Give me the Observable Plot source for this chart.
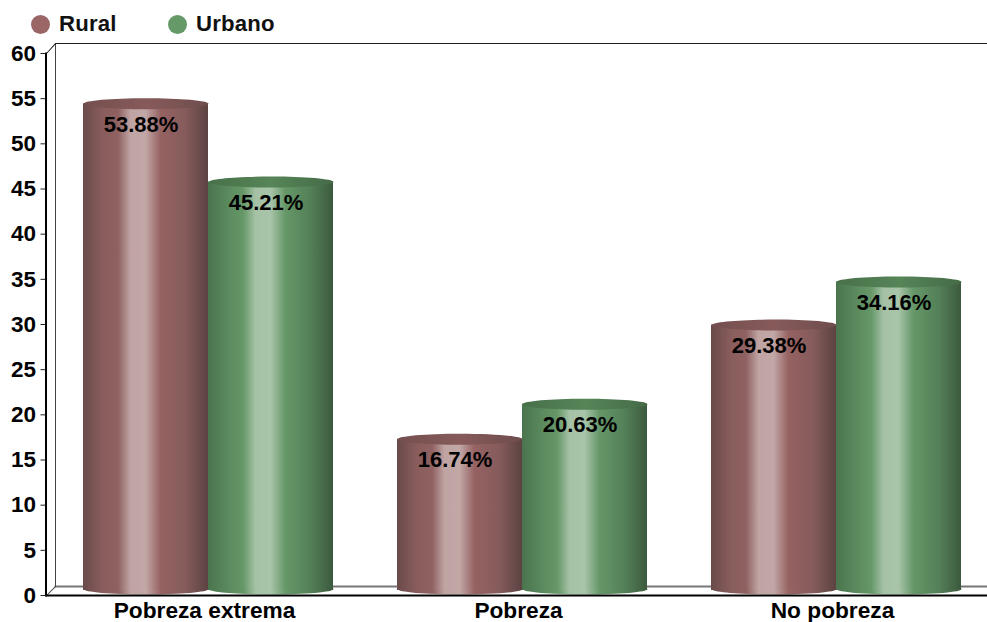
<!DOCTYPE html>
<html>
<head>
<meta charset="utf-8">
<script src="https://cdn.jsdelivr.net/npm/d3@7"></script>
<script src="https://cdn.jsdelivr.net/npm/@observablehq/plot@0.6"></script>
<style>
  html, body { margin: 0; padding: 0; background: #fff; }
  body { width: 987px; height: 622px; overflow: hidden; font-family: "Liberation Sans", Arial, sans-serif; }
  #legend { height: 36px; position: relative; font-weight: bold; font-size: 22.2px; letter-spacing: 0.2px; color: #111; }
  #legend .item { position: absolute; top: 0; height: 48px; display: flex; align-items: center; }
  #legend .swatch { width: 19px; height: 19px; border-radius: 50%; margin-right: 9px; }
  #chart svg { display: block; }
</style>
</head>
<body>
<div id="legend"></div>
<div id="chart"></div>
<script>
// Poverty level by area of residence, in percent
const categories = ["Pobreza extrema", "Pobreza", "No pobreza"];
const series = ["Rural", "Urbano"];
const ruralValues = [53.88, 16.74, 29.38];
const urbanoValues = [45.21, 20.63, 34.16];
const yTicks = [0, 5, 10, 15, 20, 25, 30, 35, 40, 45, 50, 55, 60];

const swatchColors = {Rural: "#9a6666", Urbano: "#659a68"};
const bodyStops = {
  Rural: [[0, "#6a4a4a"], [0.17, "#8b5e5e"], [0.28, "#8f6161"], [0.38, "#c0a4a4"], [0.5, "#c2a7a7"], [0.62, "#966262"], [0.82, "#855b5b"], [1, "#5c4242"]],
  Urbano: [[0, "#4a744d"], [0.17, "#5c8b5f"], [0.28, "#659768"], [0.38, "#a5c2a6"], [0.5, "#a8c4a9"], [0.62, "#659768"], [0.82, "#548057"], [1, "#3c5a3e"]]
};
const capStops = {
  Rural: [[0, "#744f4f"], [0.5, "#875a5a"], [1, "#6f4d4d"]],
  Urbano: [[0, "#487049"], [0.5, "#568558"], [1, "#456b47"]]
};

const rows = series.flatMap((s, k) => {
  const values = k === 0 ? ruralValues : urbanoValues;
  return categories.map((c, i) => ({category: c, series: s, value: values[i]}));
});

// Horizontal gradients that give each cylinder its rounded shading
function gradients() {
  const defs = d3.create("svg:defs");
  const add = (id, stops) => {
    const g = defs.append("linearGradient").attr("id", id);
    for (const [offset, color] of stops) {
      g.append("stop").attr("offset", offset).attr("stop-color", color);
    }
  };
  for (const s of series) {
    add("body" + s, bodyStops[s]);
    add("cap" + s, capStops[s]);
  }
  return defs.node();
}

// Flat ellipse closing a cylinder at its top and bottom
const capSymbol = {
  draw(ctx) {
    const rx = 62.5, ry = 5.5, kx = rx * 0.5523, ky = ry * 0.5523;
    ctx.moveTo(-rx, 0);
    ctx.bezierCurveTo(-rx, -ky, -kx, -ry, 0, -ry);
    ctx.bezierCurveTo(kx, -ry, rx, -ky, rx, 0);
    ctx.bezierCurveTo(rx, ky, kx, ry, 0, ry);
    ctx.bezierCurveTo(-kx, ry, -rx, ky, -rx, 0);
    ctx.closePath();
  }
};

// Short segment joining the front axes to the back wall
const joint = {
  draw(ctx, length) {
    ctx.moveTo(0, 0);
    ctx.lineTo(0, -length);
  }
};

const depth = 9;
const wall = {facet: "super", dx: depth, dy: -depth};
const labelFont = {fontSize: 22, fontWeight: "bold", fill: "#000"};

const chart = Plot.plot({
  width: 987,
  height: 586,
  marginTop: 17,
  marginBottom: 27,
  marginLeft: 46,
  marginRight: 0,
  style: {fontFamily: "'Liberation Sans', Arial, sans-serif", background: "#fff", overflow: "hidden"},
  fx: {domain: categories, range: [46, 988], padding: 0, round: false, label: null},
  x: {domain: series, paddingInner: 0, paddingOuter: 0.256, round: false, axis: null},
  y: {domain: [0, 60], label: null},
  marks: [
    gradients,
    // back wall
    Plot.frame({anchor: "top", stroke: "#222", strokeWidth: 1, ...wall, dy: -10}),
    Plot.frame({anchor: "left", stroke: "#444", strokeWidth: 1, ...wall}),
    Plot.frame({anchor: "bottom", stroke: "#777", strokeWidth: 2, ...wall}),
    Plot.vector([0], {frameAnchor: "top-left", anchor: "start", length: 13, rotate: 42, shape: joint, stroke: "#222", strokeWidth: 1, facet: "super"}),
    Plot.vector([0], {frameAnchor: "bottom-left", anchor: "start", length: 13, rotate: 45, shape: joint, stroke: "#444", strokeWidth: 1, facet: "super"}),
    // cylinders
    Plot.dot(rows, {
      fx: "category", x: "series", y: () => 0,
      symbol: capSymbol,
      fill: {value: (d) => `url(#body${d.series})`, scale: null},
      dx: 5, dy: -6.5
    }),
    Plot.barY(rows, {
      fx: "category", x: "series", y1: () => 0, y2: "value",
      fill: {value: (d) => `url(#body${d.series})`, scale: null},
      dx: 5, dy: -5, insetLeft: 0, insetRight: 0
    }),
    Plot.dot(rows, {
      fx: "category", x: "series", y: "value",
      symbol: capSymbol,
      fill: {value: (d) => `url(#cap${d.series})`, scale: null},
      dx: 5, dy: -5
    }),
    Plot.text(rows, {
      fx: "category", x: "series", y: "value",
      text: (d) => d.value.toFixed(2) + "%",
      dy: 16, ...labelFont
    }),
    // front axes
    Plot.frame({anchor: "left", stroke: "#000", strokeWidth: 2, facet: "super", dx: -0.5}),
    Plot.frame({anchor: "bottom", stroke: "#000", strokeWidth: 2, facet: "super"}),
    Plot.axisY({ticks: yTicks, tickSize: 5, tickPadding: 5, tickFormat: (d) => String(d), stroke: "#222", ...labelFont, fontSize: 22.5, marginLeft: 46, dx: -0.5}),
    Plot.axisFx({tickSize: 0, tickPadding: 6.5, anchor: "bottom", label: null, ...labelFont, fontSize: 22.7, dx: 1}),
    Plot.ruleX(categories, {fx: (d) => d, y1: 0, y2: -0.55, dx: -157, stroke: "#555", strokeWidth: 1})
  ]
});
document.getElementById("chart").append(chart);

// Legend above the chart
const legend = d3.select("#legend");
const legendLeft = {Rural: 31, Urbano: 168};
for (const s of series) {
  const item = legend.append("div").attr("class", "item").style("left", legendLeft[s] + "px");
  item.append("span").attr("class", "swatch").style("background", swatchColors[s]);
  item.append("span").text(s);
}
</script>
</body>
</html>
